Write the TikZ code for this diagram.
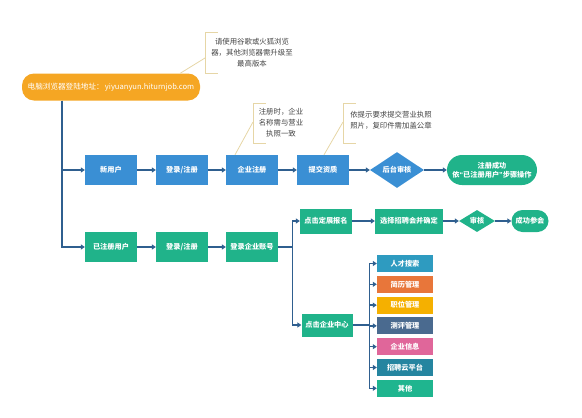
\documentclass[tikz,border=0pt]{standalone}
\usepackage{fontspec}
\setmainfont{Noto Sans CJK SC}
\newfontfamily\latinq{Liberation Sans}
\usetikzlibrary{shapes.geometric,arrows.meta,positioning}
\definecolor{cblue}{HTML}{3A8FD4}
\definecolor{cgreen}{HTML}{20B38A}
\definecolor{corange}{HTML}{F5A623}
\definecolor{cline}{HTML}{2F5F8F}
\definecolor{cnote}{HTML}{E6D6A6}
\definecolor{cnotetext}{HTML}{444444}
\definecolor{lteal}{HTML}{2E9BC0}
\definecolor{lorange}{HTML}{E8763A}
\definecolor{lyellow}{HTML}{F5B000}
\definecolor{lslate}{HTML}{4A6A8F}
\definecolor{lpink}{HTML}{E0669A}
\definecolor{ldteal}{HTML}{2585A0}
\definecolor{lgreen}{HTML}{1FB58F}
\begin{document}
\begin{tikzpicture}[x=1pt,y=-1pt,
  every node/.style={font=\fontsize{7.2}{9}\selectfont\bfseries, text=white, inner sep=0pt, align=center},
  bbox/.style={fill=cblue, minimum width=52pt, minimum height=30pt},
  gbox/.style={fill=cgreen, minimum width=52pt, minimum height=30pt},
  sbox/.style={fill=cgreen, minimum height=25pt},
  lbox/.style={minimum width=56pt, minimum height=17pt},
  dia/.style={diamond, fill=#1, inner sep=0pt},
  pill/.style={fill=#1, rounded corners=11pt},
  notetxt/.style={text=cnotetext, font=\fontsize{7.4}{11}\selectfont, align=center},
  notebr/.style={draw=cnote, line width=0.8pt},
  conn/.style={draw=cline, line width=1.4pt},
  arr/.style={draw=cline, line width=1.4pt, -{Triangle[length=4pt,width=5pt]}}
]
\useasboundingbox (0,0) rectangle (582,418);

% orange start
\node[fill=corange, rounded corners=12pt, minimum width=178pt, minimum height=27pt, font=\fontsize{7.6}{9}\selectfont] (start) at (111,87) {电脑浏览器登陆地址：\,yiyuanyun.hiturnjob.com};

% note 1
\node[notetxt] (n1) at (252,53) {请使用谷歌或火狐浏览\\器，其他浏览器需升级至\\最高版本};
\coordinate (n1l) at (205,58);
\draw[notebr] (218,32) -- (205,32) -- (205,73) -- (218,73);
\draw[notebr] ([xshift=-20pt]start.north east) -- (n1l);

% row 1
\node[bbox] (new) at (111,170) {新用户};
\node[bbox] (log1) at (182,170) {登录/注册};
\node[bbox] (ent) at (252,170) {企业注册};
\node[bbox] (sub) at (323,170) {提交资质};
\node[dia=cblue, minimum width=54pt, minimum height=34pt] (aud) at (397,170) {后台审核};
\node[pill=cgreen, minimum width=90pt, minimum height=30pt, rounded corners=15pt] (ok) at (492,170) {注册成功\\依{\latinq “}已注册用户{\latinq ”}步骤操作};

% notes 2,3
\node[notetxt] (n2) at (281,123) {注册时，企业\\名称需与营业\\执照一致};
\coordinate (n2l) at (253,122);
\draw[notebr] (266,103) -- (253,103) -- (253,143) -- (266,143);
\draw[notebr] ([xshift=-17pt]ent.north) -- (n2l);
\node[notetxt, align=left] (n3) at (391,120) {依提示要求提交营业执照\\照片，复印件需加盖公章};
\coordinate (n3l) at (343,122);
\draw[notebr] (356,103) -- (343,103) -- (343,143) -- (356,143);
\draw[notebr] ([xshift=1pt]sub.north) -- (n3l);

% row 2
\node[gbox] (reg) at (111,247) {已注册用户};
\node[gbox] (log2) at (182,247) {登录/注册};
\node[gbox] (acct) at (252,247) {登录企业账号};
\node[sbox, minimum width=52pt] (fair) at (326,221) {点击定展报名};
\node[sbox, minimum width=68pt] (sel) at (409,221) {选择招聘会并确定};
\node[dia=cgreen, minimum width=36pt, minimum height=22pt] (chk) at (477,221) {审核};
\node[pill=cgreen, minimum width=37pt, minimum height=22pt] (succ) at (530,221) {成功参会};
\node[fill=cgreen, minimum width=51pt, minimum height=23pt] (cen) at (327,325) {点击企业中心};

% list
\node[lbox, fill=lteal] (l1) at (405,263.5) {人才搜索};
\node[lbox, fill=lorange] (l2) at (405,284.3) {简历管理};
\node[lbox, fill=lyellow] (l3) at (405,305.1) {职位管理};
\node[lbox, fill=lslate] (l4) at (405,325.9) {测评管理};
\node[lbox, fill=lpink] (l5) at (405,346.7) {企业信息};
\node[lbox, fill=ldteal] (l6) at (405,367.5) {招聘云平台};
\node[lbox, fill=lgreen] (l7) at (405,388.3) {其他};

% connectors
\coordinate (trunk) at ([xshift=40pt]start.south west);
\draw[arr] (trunk) |- (new.west);
\draw[arr] (trunk) |- (reg.west);
\draw[arr] (new) -- (log1);
\draw[arr] (log1) -- (ent);
\draw[arr] (ent) -- (sub);
\draw[arr] (sub) -- (aud);
\draw[arr] (aud) -- (ok);
\draw[arr] (reg) -- (log2);
\draw[arr] (log2) -- (acct);
\coordinate (br) at ([xshift=14pt]acct.east);
\draw[conn] (acct.east) -- (br);
\draw[arr] (br) |- (fair.west);
\draw[arr] (br) |- (cen.west);
\draw[arr] (fair) -- (sel);
\draw[arr] (sel) -- (chk);
\draw[arr] (chk) -- (succ);
\coordinate (br2) at ([xshift=17pt]cen.east);
\draw[conn] (cen.east) -- (br2);
\foreach \i in {1,...,7} {\draw[arr] (br2) |- (l\i.west);}
\end{tikzpicture}
\end{document}
